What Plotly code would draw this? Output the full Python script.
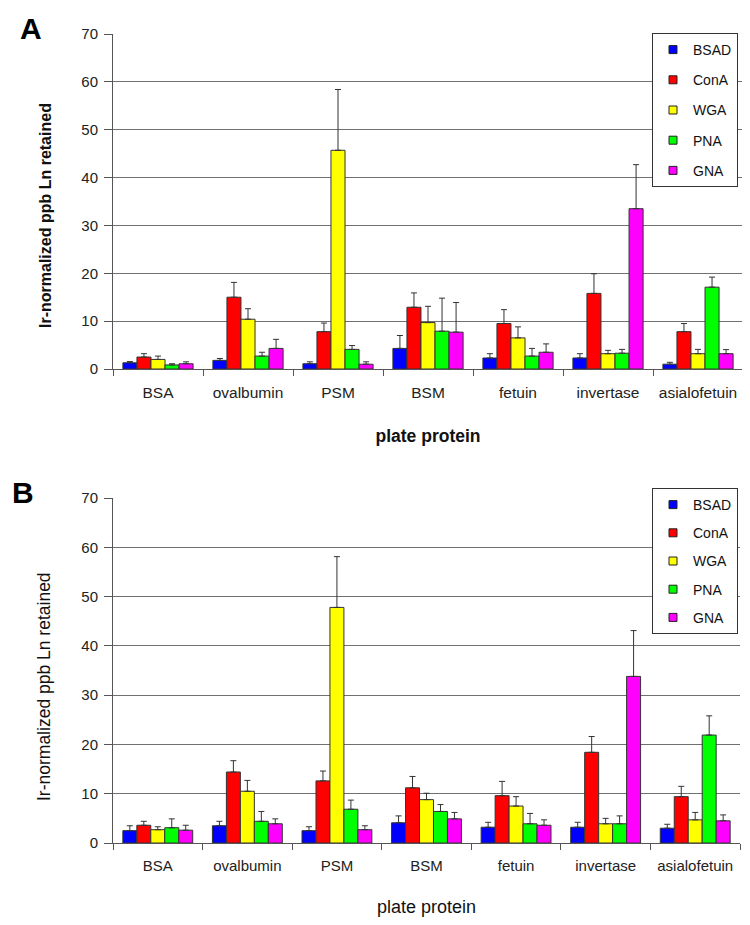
import plotly.graph_objects as go

categories = ["BSA", "ovalbumin", "PSM", "BSM", "fetuin", "invertase", "asialofetuin"]
series_names = ["BSAD", "ConA", "WGA", "PNA", "GNA"]
colors = ["#0000FF", "#FF0000", "#FFFF00", "#00FF00", "#FF00FF"]

# Panel A means and upper error bars
A_BSAD = [1.3, 1.8, 1.1, 4.3, 2.3, 2.3, 1.0]
A_ConA = [2.5, 15.0, 7.8, 12.9, 9.5, 15.8, 7.8]
A_WGA = [2.0, 10.4, 45.7, 9.7, 6.5, 3.2, 3.2]
A_PNA = [0.85, 2.7, 4.1, 7.9, 2.7, 3.3, 17.1]
A_GNA = [1.1, 4.3, 1.0, 7.7, 3.5, 33.5, 3.2]
A_BSAD_err = [0.25, 0.4, 0.4, 2.7, 0.9, 0.9, 0.4]
A_ConA_err = [0.7, 3.1, 1.8, 3.0, 2.9, 4.1, 1.7]
A_WGA_err = [0.7, 2.2, 12.7, 3.4, 2.3, 0.7, 0.9]
A_PNA_err = [0.25, 0.8, 0.8, 6.9, 1.6, 0.8, 2.1]
A_GNA_err = [0.4, 1.9, 0.5, 6.2, 1.75, 9.2, 0.85]

# Panel B means and upper error bars
B_BSAD = [2.5, 3.5, 2.5, 4.1, 3.2, 3.2, 3.0]
B_ConA = [3.6, 14.4, 12.6, 11.2, 9.6, 18.4, 9.4]
B_WGA = [2.7, 10.5, 47.8, 8.8, 7.5, 3.9, 4.7]
B_PNA = [3.1, 4.4, 6.85, 6.4, 3.9, 3.9, 21.9]
B_GNA = [2.6, 3.9, 2.7, 4.9, 3.6, 33.8, 4.5]
B_BSAD_err = [1.0, 0.9, 0.8, 1.4, 1.0, 1.0, 0.8]
B_ConA_err = [0.8, 2.3, 2.0, 2.3, 2.9, 3.2, 2.1]
B_WGA_err = [0.6, 2.2, 10.3, 1.3, 1.9, 1.1, 1.5]
B_PNA_err = [1.8, 2.0, 1.85, 1.4, 2.1, 1.6, 3.9]
B_GNA_err = [1.0, 1.0, 0.8, 1.3, 1.1, 9.3, 1.2]

y_ticks = [0, 10, 20, 30, 40, 50, 60, 70]
y_title = "Ir-normalized ppb Ln retained"
x_title = "plate protein"

panelA = [A_BSAD, A_ConA, A_WGA, A_PNA, A_GNA]
panelA_err = [A_BSAD_err, A_ConA_err, A_WGA_err, A_PNA_err, A_GNA_err]
panelB = [B_BSAD, B_ConA, B_WGA, B_PNA, B_GNA]
panelB_err = [B_BSAD_err, B_ConA_err, B_WGA_err, B_PNA_err, B_GNA_err]

FONT = "Liberation Sans, Arial, sans-serif"
# page body has an 8px default margin; size the figure to fit the window
OFF = 8
W, H = 750 - OFF, 925 - OFF

fig = go.Figure()

def add_panel(vals, errs, xa, ya, legend):
    for name, col, v, e in zip(series_names, colors, vals, errs):
        fig.add_trace(go.Bar(
            x=categories, y=v, name=name, xaxis=xa, yaxis=ya,
            marker=dict(color=col, line=dict(color="#333333", width=1)),
            error_y=dict(type="data", array=e, symmetric=False, arrayminus=[0] * len(e),
                         color="#333333", thickness=1, width=3),
            showlegend=False,
        ))
    for name, col in zip(series_names, colors):
        fig.add_trace(go.Scatter(
            x=[None], y=[None], mode="markers", name=name, xaxis=xa, yaxis=ya,
            marker=dict(symbol="square", size=8, color=col, line=dict(color="#222222", width=1)),
            legend=legend, legendgroup=legend + name, showlegend=True,
        ))

add_panel(panelA, panelA_err, "x", "y", "legend")
add_panel(panelB, panelB_err, "x2", "y2", "legend2")

def px_x(p):
    return (p - OFF) / W

def px_y(p):
    return 1 - (p - OFF) / H

axis_common = dict(
    showline=True, linecolor="#555555", linewidth=1, automargin=False,
)

def xaxis_cfg(bold, standoff, tsize, fsize):
    return dict(axis_common, type="category", tickson="boundaries", ticks="outside",
                ticklen=6, tickcolor="#555555", showgrid=False, ticklabelstandoff=9,
                tickfont=dict(family=FONT, size=fsize, color="#222222"),
                title=dict(text=f"<b>{x_title}</b>" if bold else x_title,
                           font=dict(family=FONT, size=tsize, color="#111111"), standoff=standoff))

def yaxis_cfg():
    return dict(axis_common, range=[0, 70], tickvals=y_ticks, ticks="outside", ticklen=8,
                tickcolor="#555555", showgrid=True, gridcolor="#707070", gridwidth=1,
                zeroline=False, ticklabelstandoff=3,
                tickfont=dict(family=FONT, size=15, color="#222222"))

fig.update_layout(
    width=W, height=H,
    margin=dict(l=0, r=0, t=0, b=0, autoexpand=False),
    paper_bgcolor="white", plot_bgcolor="white",
    barmode="group", bargap=0.22, bargroupgap=0,
    xaxis=dict(xaxis_cfg(True, 30, 17.5, 15.5), domain=[px_x(113), px_x(743)], anchor="y"),
    yaxis=dict(yaxis_cfg(), domain=[px_y(369), px_y(34)], anchor="x"),
    xaxis2=dict(xaxis_cfg(False, 27, 18, 15), domain=[px_x(113), px_x(740)], anchor="y2"),
    yaxis2=dict(yaxis_cfg(), domain=[px_y(843), px_y(498)], anchor="x2"),
    legend=dict(x=px_x(738), xanchor="right", y=px_y(33), yanchor="top",
                bgcolor="white", bordercolor="#333333", borderwidth=1,
                font=dict(family=FONT, size=14, color="#111111"),
                tracegroupgap=9, itemwidth=30),
    legend2=dict(x=px_x(738), xanchor="right", y=px_y(488), yanchor="top",
                 bgcolor="white", bordercolor="#333333", borderwidth=1,
                 font=dict(family=FONT, size=14, color="#111111"),
                 tracegroupgap=7, itemwidth=30),
    annotations=[
        dict(text="<b>A</b>", x=px_x(31), y=px_y(28), xref="paper", yref="paper",
             xanchor="center", yanchor="middle",
             showarrow=False, font=dict(family=FONT, size=30, color="black")),
        dict(text="<b>B</b>", x=px_x(23), y=px_y(492), xref="paper", yref="paper",
             xanchor="center", yanchor="middle",
             showarrow=False, font=dict(family=FONT, size=30, color="black")),
        dict(text=f"<b>{y_title}</b>", x=px_x(46), y=px_y(216), xref="paper", yref="paper",
             xanchor="center", yanchor="middle", textangle=-90,
             showarrow=False, font=dict(family=FONT, size=16, color="#111111")),
        dict(text=y_title, x=px_x(44), y=px_y(687), xref="paper", yref="paper",
             xanchor="center", yanchor="middle", textangle=-90,
             showarrow=False, font=dict(family=FONT, size=17.5, color="#111111")),
    ],
)

fig.write_html("out.html")
